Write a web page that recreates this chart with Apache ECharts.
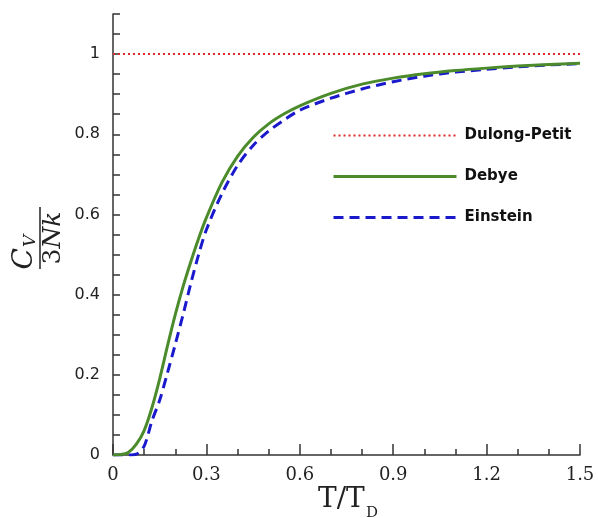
<!DOCTYPE html>
<html>
<head>
	<meta charset="utf-8" />
	<title>Heat capacity</title>
	<style type="text/css">
		html,body{margin:0;padding:0;background:#fff;}
		#main{width:598px;height:518px;}
	</style>
</head>
<body>
<div id="main"></div>
<script src="https://cdn.jsdelivr.net/npm/echarts/dist/echarts.min.js"></script>
<script>
	// T/T_D sample points
	var tValues = [0, 0.025, 0.05, 0.075, 0.1, 0.125, 0.15, 0.175, 0.2, 0.225, 0.25, 0.275, 0.3,
		0.35, 0.4, 0.45, 0.5, 0.55, 0.6, 0.7, 0.8, 0.9, 1.0, 1.1, 1.2, 1.3, 1.4, 1.5];
	// Debye curve
	var debyeValues = [0, 0.001, 0.007, 0.027, 0.061, 0.118, 0.19, 0.272, 0.35, 0.42, 0.482, 0.54, 0.592,
		0.68, 0.745, 0.792, 0.826, 0.851, 0.871, 0.902, 0.925, 0.94, 0.951, 0.959, 0.965, 0.97, 0.974, 0.977];
	// Einstein curve
	var einsteinValues = [0, 0, 0, 0.002, 0.022, 0.085, 0.137, 0.205, 0.276, 0.35, 0.428, 0.5, 0.562,
		0.652, 0.722, 0.772, 0.808, 0.836, 0.86, 0.89, 0.913, 0.931, 0.945, 0.955, 0.962, 0.968, 0.973, 0.976];
	// Dulong-Petit limit
	var dulongT = [0, 1.5];
	var dulongValues = [1, 1];

	function pairs(xs, ys){
		var out = [];
		for (var i = 0; i < xs.length; i++) out.push([xs[i], ys[i]]);
		return out;
	}

	var axisColor = '#333';
	var chart = echarts.init(document.getElementById('main'));
	chart.setOption({
		animation: false,
		backgroundColor: '#fff',
		grid: {left: 113, right: 18, top: 14, bottom: 63},
		legend: {
			orient: 'vertical',
			left: 332,
			top: 128,
			padding: 0,
			itemWidth: 123,
			itemHeight: 16,
			itemGap: 26,
			itemStyle: {opacity: 0},
			lineStyle: {width: 'inherit'},
			textStyle: {fontFamily: 'DejaVu Sans', fontWeight: 'bold', fontSize: 15, color: '#111', padding: [0, 0, 0, 3]},
			data: ['Dulong-Petit', 'Debye', 'Einstein']
		},
		xAxis: {
			type: 'value',
			min: 0,
			max: 1.5,
			interval: 0.3,
			axisLine: {lineStyle: {color: axisColor, width: 1.5}},
			axisTick: {inside: true, length: 11, lineStyle: {color: axisColor, width: 1.5}},
			minorTick: {show: true, splitNumber: 3, length: 6, lineStyle: {color: axisColor, width: 1.5}},
			splitLine: {show: false},
			axisLabel: {
				margin: 11,
				fontFamily: 'DejaVu Serif',
				fontSize: 18,
				color: '#222',
				formatter: function(v){ return v === 0 ? '0' : v.toFixed(1); }
			}
		},
		yAxis: {
			type: 'value',
			min: 0,
			max: 1.1,
			interval: 0.05,
			axisLine: {lineStyle: {color: axisColor, width: 1.5}},
			axisTick: {inside: true, length: 7, lineStyle: {color: axisColor, width: 1.5}},
			splitLine: {show: false},
			axisLabel: {
				margin: 13,
				fontFamily: 'DejaVu Sans',
				fontSize: 16,
				color: '#222',
				formatter: function(v){
					var k = v / 0.2;
					if (Math.abs(k - Math.round(k)) > 1e-6) return '';
					if (Math.abs(v) < 1e-9) return '0';
					if (Math.abs(v - 1) < 1e-9) return '1';
					return v.toFixed(1);
				}
			}
		},
		series: [
			{
				name: 'Dulong-Petit',
				type: 'line',
				symbol: 'none',
				z: 3,
				lineStyle: {color: '#e02a2a', width: 2, type: [2, 3]},
				itemStyle: {color: '#e02a2a'},
				data: pairs(dulongT, dulongValues)
			},
			{
				name: 'Debye',
				type: 'line',
				symbol: 'none',
				smooth: 0.3,
				z: 4,
				lineStyle: {color: '#4b8b2b', width: 3},
				itemStyle: {color: '#4b8b2b'},
				data: pairs(tValues, debyeValues)
			},
			{
				name: 'Einstein',
				type: 'line',
				symbol: 'none',
				smooth: 0.3,
				z: 2,
				lineStyle: {color: '#1a1acc', width: 3, type: [10, 6]},
				itemStyle: {color: '#1a1acc'},
				data: pairs(tValues, einsteinValues)
			}
		],
		graphic: [
			// x axis title T/T_D
			{type: 'text', left: 318, top: 486, style: {text: 'T/T', font: '28px "DejaVu Serif"', fill: '#222'}},
			{type: 'text', left: 366, top: 506, style: {text: 'D', font: '15px "DejaVu Serif"', fill: '#222'}},
			// y axis title C_V / 3Nk, rotated
			{
				type: 'group',
				x: 40,
				y: 238,
				rotation: Math.PI / 2,
				children: [
					{type: 'line', shape: {x1: -31, y1: 0, x2: 31, y2: 0}, style: {stroke: '#222', lineWidth: 1.5}},
					{type: 'text', x: -10, y: -1, style: {text: 'C', font: 'italic 28px "DejaVu Serif"', fill: '#222', align: 'right', verticalAlign: 'bottom'}},
					{type: 'text', x: -9, y: -1, style: {text: 'V', font: 'italic 17px "DejaVu Serif"', fill: '#222', align: 'left', verticalAlign: 'bottom'}},
					{
						type: 'text', x: 0, y: 1,
						style: {
							text: '{n|3}{i|Nk}',
							align: 'center',
							verticalAlign: 'top',
							rich: {
								n: {fontFamily: 'DejaVu Serif', fontSize: 25, fill: '#222', color: '#222'},
								i: {fontFamily: 'DejaVu Serif', fontStyle: 'italic', fontSize: 25, fill: '#222', color: '#222'}
							}
						}
					}
				]
			}
		]
	});
</script>
</body>
</html>
